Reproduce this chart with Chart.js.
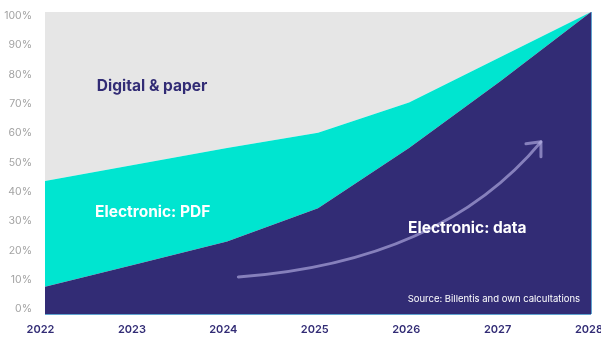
<!DOCTYPE html>
<html>
<head>
<meta charset="utf-8">
<script src="https://cdn.jsdelivr.net/npm/chart.js@4/dist/chart.umd.min.js"></script>
<style>
  html, body { margin: 0; padding: 0; background: #ffffff; }
  #wrap { width: 601px; height: 338px; position: relative; }
</style>
</head>
<body>
<div id="wrap"><canvas id="chart" width="601" height="338"></canvas></div>
<script>
// Share of invoice formats, percent of total per year
const years = ['2022', '2023', '2024', '2025', '2026', '2027', '2028'];
const electronicData = [9, 16.5, 24, 35, 55, 77, 100];
const electronicPdf = [35, 33, 31, 25, 15, 8, 0];
const digitalPaper = [56, 50.5, 45, 40, 30, 15, 0];
const percentTicks = [0, 10, 20, 30, 40, 50, 60, 70, 80, 90, 100];

const PURPLE = '#322c75';
const TEAL = '#00e5d0';
const GREY = '#e6e6e6';
const FONT = 'Inter, "Noto Sans", sans-serif';

// In-chart labels, placed in data space (category index, percent)
const areaLabels = [
  { text: 'Digital & paper', x: 0.57, y: 75.5, color: PURPLE, font: '700 15.5px ' + FONT, align: 'left' },
  { text: 'Electronic: PDF', x: 0.55, y: 33.8, color: '#ffffff', font: '700 15.5px ' + FONT, align: 'left' },
  { text: 'Electronic: data', x: 3.99, y: 28.5, color: '#ffffff', font: '700 15.5px ' + FONT, align: 'left' },
  { text: 'Source: Billentis and own calcultations', x: 5.88, y: 5, color: '#ffffff', font: '400 9.5px ' + FONT, align: 'right' }
];

// Growth arrow: quadratic curve in data space
const growthArrow = { from: [2.125, 12.25], ctrl: [4.35, 17.2], to: [5.45, 57] };

// keep the label axes from reserving room for overhanging tick text
const noOverhang = s => { s.paddingLeft = 0; s.paddingRight = 0; s.paddingTop = 0; s.paddingBottom = 0; };

const overlay = {
  id: 'overlay',
  afterDatasetsDraw(chart) {
    const { ctx, chartArea: a } = chart;
    const xs = chart.scales.x, ys = chart.scales.y;
    const px = v => xs.getPixelForValue(v);
    const py = v => ys.getPixelForValue(v);
    ctx.save();

    // frame lines on the bottom and right edge of the plot
    ctx.strokeStyle = '#5fa3cf';
    ctx.lineWidth = 1;
    ctx.beginPath();
    ctx.moveTo(a.left, a.bottom + 0.5);
    ctx.lineTo(a.right, a.bottom + 0.5);
    ctx.moveTo(a.right + 0.5, a.top);
    ctx.lineTo(a.right + 0.5, a.bottom);
    ctx.stroke();

    // arrow
    const g = growthArrow;
    const tx = px(g.to[0]), ty = py(g.to[1]);
    ctx.strokeStyle = 'rgba(190, 185, 235, 0.6)';
    ctx.lineWidth = 3;
    ctx.lineCap = 'round';
    ctx.lineJoin = 'round';
    ctx.beginPath();
    ctx.moveTo(px(g.from[0]), py(g.from[1]));
    ctx.quadraticCurveTo(px(g.ctrl[0]), py(g.ctrl[1]), tx, ty);
    ctx.stroke();
    ctx.beginPath();
    ctx.moveTo(tx - 15, ty + 2);
    ctx.lineTo(tx, ty);
    ctx.lineTo(tx, ty + 15);
    ctx.stroke();

    // labels
    ctx.textBaseline = 'middle';
    areaLabels.forEach(l => {
      ctx.font = l.font;
      ctx.fillStyle = l.color;
      ctx.textAlign = l.align;
      ctx.fillText(l.text, px(l.x), py(l.y));
    });
    ctx.restore();
  }
};

new Chart(document.getElementById('chart'), {
  type: 'line',
  data: {
    labels: years,
    datasets: [
      { label: 'Electronic: data', data: electronicData, backgroundColor: PURPLE, borderWidth: 0, pointRadius: 0, fill: 'origin', tension: 0 },
      { label: 'Electronic: PDF', data: electronicPdf, backgroundColor: TEAL, borderWidth: 0, pointRadius: 0, fill: '-1', tension: 0 },
      { label: 'Digital & paper', data: digitalPaper, backgroundColor: GREY, borderWidth: 0, pointRadius: 0, fill: '-1', tension: 0 }
    ]
  },
  options: {
    responsive: false,
    animation: false,
    devicePixelRatio: 1,
    layout: { padding: { top: 12, right: 10, left: 0, bottom: 0 } },
    plugins: { legend: { display: false }, tooltip: { enabled: false } },
    elements: { line: { borderWidth: 0 } },
    scales: {
      x: { type: 'category', display: false, offset: false },
      y: { stacked: true, min: 0, max: 100, display: false },
      // year labels
      xl: {
        type: 'linear', position: 'bottom',
        min: 0.0493, max: 6.0219,
        afterBuildTicks: s => { s.ticks = years.map((_, i) => ({ value: i })); },
        afterFit: s => { s.height = 24; noOverhang(s); },
        grid: { display: false, drawTicks: false },
        border: { display: false },
        ticks: {
          autoSkip: false, maxRotation: 0, padding: 9,
          color: PURPLE, font: { family: FONT, size: 11, weight: '600' },
          callback: v => years[v]
        }
      },
      // percent labels
      yl: {
        type: 'linear', position: 'left',
        min: -1.706, max: 101.365,
        afterBuildTicks: s => { s.ticks = percentTicks.map(v => ({ value: v })); },
        afterFit: s => { s.width = 45; noOverhang(s); },
        grid: { display: false, drawTicks: false },
        border: { display: false },
        ticks: {
          autoSkip: false, padding: 13,
          color: '#a3a3a3', font: { family: FONT, size: 10.5 },
          callback: v => v + '%'
        }
      }
    }
  },
  plugins: [overlay]
});
</script>
</body>
</html>
